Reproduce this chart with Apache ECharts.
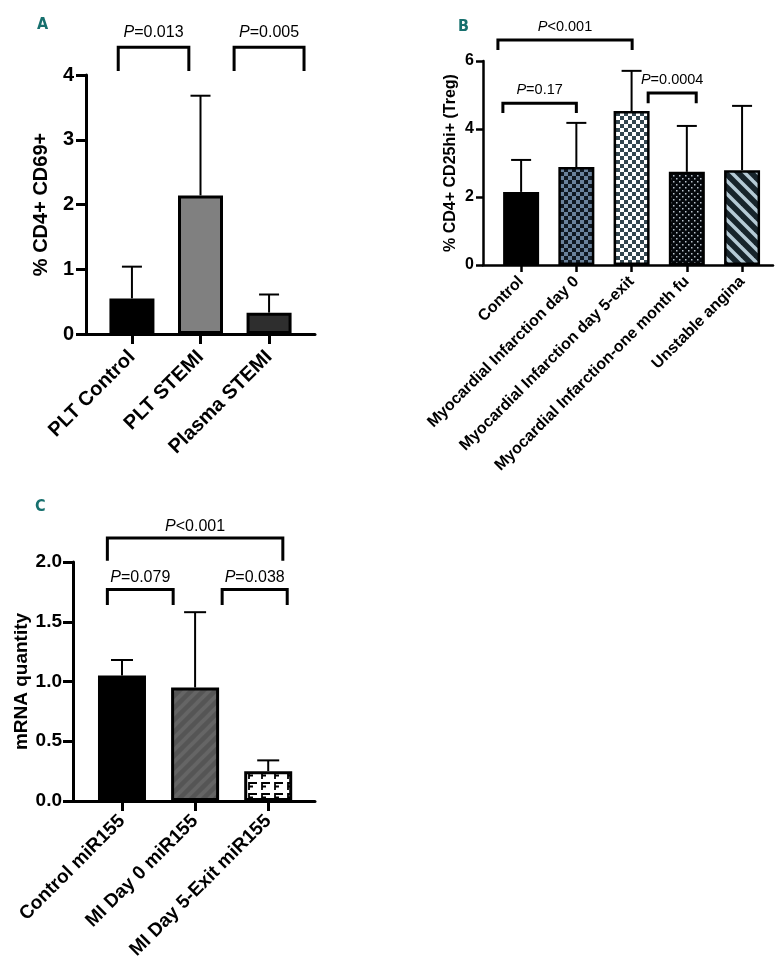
<!DOCTYPE html>
<html>
<head>
<meta charset="utf-8">
<script src="https://cdn.jsdelivr.net/npm/echarts@6.0.0/dist/echarts.min.js"></script>
<style>
html,body{margin:0;padding:0;background:#fff;}
#chart{width:783px;height:967px;}
</style>
</head>
<body>
<div id="chart"></div>
<script>
// ---------------- DATA ----------------
// Panel A
const catA = ['PLT Control', 'PLT STEMI', 'Plasma STEMI'];
const meanA = [0.55, 2.14, 0.33];
const sdA = [0.49, 1.54, 0.28];
const yTicksA = [0, 1, 2, 3, 4];
const bracketPosA = [[-0.2, 0.83, 4.43, 4.06], [1.49, 2.51, 4.43, 4.06]];
const bracketLabelA = ['P=0.013', 'P=0.005'];

// Panel B
const catB = ['Control', 'Myocardial Infarction day 0', 'Myocardial Infarction day 5-exit',
  'Myocardial Infarction-one month fu', 'Unstable angina'];
const meanB = [2.15, 2.88, 4.53, 2.74, 2.79];
const sdB = [0.94, 1.30, 1.18, 1.35, 1.89];
const yTicksB = [0, 2, 4, 6];
const bracketPosB = [[-0.42, 2.01, 6.62, 6.32], [-0.33, 1.0, 4.76, 4.47], [2.30, 3.17, 5.06, 4.76]];
const bracketLabelB = ['P<0.001', 'P=0.17', 'P=0.0004'];

// Panel C
const catC = ['Control miR155', 'MI Day 0 miR155', 'MI Day 5-Exit miR155'];
const meanC = [1.05, 0.95, 0.25];
const sdC = [0.13, 0.63, 0.09];
const yTicksC = [0, 0.5, 1.0, 1.5, 2.0];
const bracketPosC = [[-0.2, 2.2, 2.2, 2.01], [-0.2, 0.70, 1.77, 1.64], [1.37, 2.26, 1.77, 1.64]];
const bracketLabelC = ['P<0.001', 'P=0.079', 'P=0.038'];

// ---------------- STYLES ----------------
const FONT = '"Liberation Sans", Arial, sans-serif';

function makePattern(w, h, draw) {
  const c = document.createElement('canvas');
  c.width = w; c.height = h;
  const ctx = c.getContext('2d');
  draw(ctx, w, h);
  return { image: c, repeat: 'repeat' };
}
function checker(bg, fg, s) {
  return makePattern(2 * s, 2 * s, (ctx) => {
    ctx.fillStyle = bg; ctx.fillRect(0, 0, 2 * s, 2 * s);
    ctx.fillStyle = fg; ctx.fillRect(0, 0, s, s); ctx.fillRect(s, s, s, s);
  });
}
function stripes(bg, fg, size, lw, dir) {
  return makePattern(size, size, (ctx, w, h) => {
    ctx.fillStyle = bg; ctx.fillRect(0, 0, w, h);
    ctx.strokeStyle = fg; ctx.lineWidth = lw;
    for (let k = -1; k <= 1; k++) {
      ctx.beginPath();
      if (dir === 'back') { ctx.moveTo(k * w - 2, -2); ctx.lineTo(k * w + w + 2, h + 2); }
      else { ctx.moveTo(k * w - 2, h + 2); ctx.lineTo(k * w + w + 2, -2); }
      ctx.stroke();
    }
  });
}
const dotsPattern = makePattern(6, 6, (ctx) => {
  ctx.fillStyle = '#05080c'; ctx.fillRect(0, 0, 6, 6);
  ctx.fillStyle = '#b9c2cc';
  ctx.fillRect(1, 1, 1.5, 1.5); ctx.fillRect(4, 4, 1.5, 1.5);
});
const gammaPattern = makePattern(13, 11, (ctx) => {
  ctx.fillStyle = '#fff'; ctx.fillRect(0, 0, 13, 11);
  ctx.strokeStyle = '#000'; ctx.lineWidth = 1.8;
  ctx.beginPath();
  ctx.moveTo(2, 9); ctx.lineTo(2, 2); ctx.lineTo(10, 2);
  ctx.moveTo(2, 5.5); ctx.lineTo(6, 5.5);
  ctx.stroke();
});

const colorsA = ['#000000', '#808080', '#2e2e2e'];
const colorsB = ['#000000', checker('#0f1822', '#6a829c', 4), checker('#ffffff', '#33464f', 4),
  dotsPattern, stripes('#17242b', '#b5cad5', 13, 3.5, 'back')];
const colorsC = ['#000000', stripes('#555555', '#656565', 12, 4, 'fwd'), gammaPattern];

// ---------------- BUILDERS ----------------
function barSeries(gi, means, colors, bw, bwBorder) {
  return {
    type: 'bar', xAxisIndex: gi, yAxisIndex: gi, barWidth: bw, z: 2,
    data: means.map((m, i) => ({ value: [i, m], itemStyle: { color: colors[i] } })),
    itemStyle: { borderColor: '#000', borderWidth: bwBorder },
    silent: true, animation: false
  };
}
function errSeries(gi, means, sds, capW, lw) {
  return {
    type: 'custom', xAxisIndex: gi, yAxisIndex: gi, z: 3, silent: true, animation: false,
    data: means.map((m, i) => [i, m, sds[i]]),
    renderItem(params, api) {
      const x = api.value(0), m = api.value(1), sd = api.value(2);
      const p0 = api.coord([x, m]), p1 = api.coord([x, m + sd]);
      const st = { stroke: '#000', lineWidth: lw };
      return { type: 'group', children: [
        { type: 'line', shape: { x1: p0[0], y1: p0[1], x2: p1[0], y2: p1[1] }, style: st },
        { type: 'line', shape: { x1: p1[0] - capW / 2, y1: p1[1], x2: p1[0] + capW / 2, y2: p1[1] }, style: st }
      ] };
    }
  };
}
function bracketSeries(gi, pos, labels, fontSize, gap) {
  return {
    type: 'custom', xAxisIndex: gi, yAxisIndex: gi, z: 4, silent: true, animation: false,
    encode: { x: [0, 1], y: [2, 3] },
    data: pos,
    renderItem(params, api) {
      const a = api.coord([api.value(0), api.value(2)]);
      const b = api.coord([api.value(1), api.value(2)]);
      const aL = api.coord([api.value(0), api.value(3)]);
      const bL = api.coord([api.value(1), api.value(3)]);
      const lab = labels[params.dataIndex];
      return { type: 'group', children: [
        { type: 'polyline', shape: { points: [[aL[0], aL[1]], [a[0], a[1]], [b[0], b[1]], [bL[0], bL[1]]] },
          style: { stroke: '#000', lineWidth: 3, fill: null } },
        { type: 'text', style: {
            x: (a[0] + b[0]) / 2, y: a[1] - gap,
            text: '{i|' + lab.charAt(0) + '}' + lab.slice(1),
            align: 'center', verticalAlign: 'middle',
            fontSize: fontSize, fontFamily: FONT, fill: '#000',
            rich: { i: { fontStyle: 'italic', fontSize: fontSize, fontFamily: FONT, fill: '#000' } }
          } }
      ] };
    }
  };
}
function yAxisCfg(gi, min, max, interval, name, nameGap, fs, tickLen, margin, lw, fmt) {
  return {
    gridIndex: gi, type: 'value', min: min, max: max, interval: interval,
    axisLine: { show: true, onZero: false, lineStyle: { color: '#000', width: lw } },
    axisTick: { show: true, length: tickLen, lineStyle: { color: '#000', width: lw } },
    axisLabel: { color: '#000', fontSize: fs, fontWeight: 'bold', fontFamily: FONT, margin: margin, formatter: fmt },
    splitLine: { show: false },
    name: name, nameLocation: 'middle', nameGap: nameGap,
    nameTextStyle: { color: '#000', fontSize: fs, fontWeight: 'bold', fontFamily: FONT }
  };
}
function xAxisCfg(gi, min, max, cats, fs, tickLen, margin, lw) {
  const idx = cats.map((c, i) => i);
  return {
    gridIndex: gi, type: 'value', min: min, max: max,
    axisLine: { show: true, onZero: false, lineStyle: { color: '#000', width: lw } },
    axisTick: { show: true, length: tickLen, customValues: idx, lineStyle: { color: '#000', width: lw } },
    axisLabel: { customValues: idx, rotate: 45, color: '#000', fontSize: fs, fontWeight: 'bold', fontFamily: FONT,
      margin: margin, formatter: (v) => cats[Math.round(v)], hideOverlap: false },
    splitLine: { show: false }
  };
}

// ---------------- CHART ----------------
const chart = echarts.init(document.getElementById('chart'), null, { renderer: 'canvas', width: 783, height: 967 });
chart.setOption({
  backgroundColor: '#fff',
  animation: false,
  grid: [
    { left: 86, top: 75, width: 229, height: 259, containLabel: false },
    { left: 483, top: 61, width: 290, height: 204, containLabel: false },
    { left: 73, top: 562, width: 242, height: 239, containLabel: false }
  ],
  xAxis: [
    xAxisCfg(0, -0.67, 2.67, catA, 20, 10, 20, 3),
    xAxisCfg(1, -0.69, 4.56, catB, 16, 7, 14, 2.5),
    xAxisCfg(2, -0.67, 2.64, catC, 19, 10, 17, 3)
  ],
  yAxis: [
    yAxisCfg(0, yTicksA[0], yTicksA[yTicksA.length - 1], yTicksA[1] - yTicksA[0], '% CD4+ CD69+', 35, 20, 10, 12, 3),
    yAxisCfg(1, yTicksB[0], yTicksB[yTicksB.length - 1], yTicksB[1] - yTicksB[0], '% CD4+ CD25hi+ (Treg)', 24, 16, 7, 9, 2.5),
    yAxisCfg(2, yTicksC[0], yTicksC[yTicksC.length - 1], yTicksC[1] - yTicksC[0], 'mRNA quantity', 42, 19, 10, 11, 3,
      (v) => v.toFixed(1))
  ],
  graphic: [
    { type: 'text', left: 37, top: 17, style: { text: 'A', fill: '#17706e', font: 'bold 16px "DejaVu Sans Condensed", "DejaVu Sans", sans-serif' } },
    { type: 'text', left: 458, top: 19, style: { text: 'B', fill: '#17706e', font: 'bold 16px "DejaVu Sans Condensed", "DejaVu Sans", sans-serif' } },
    { type: 'text', left: 35, top: 499, style: { text: 'C', fill: '#17706e', font: 'bold 16px "DejaVu Sans Condensed", "DejaVu Sans", sans-serif' } }
  ],
  series: [
    barSeries(0, meanA, colorsA, 45, 3),
    errSeries(0, meanA, sdA, 20, 2),
    bracketSeries(0, bracketPosA, bracketLabelA, 16, 15),
    barSeries(1, meanB, colorsB, 36, 2.5),
    errSeries(1, meanB, sdB, 20, 2),
    bracketSeries(1, bracketPosB, bracketLabelB, 14.5, 13),
    barSeries(2, meanC, colorsC, 48, 3),
    errSeries(2, meanC, sdC, 22, 2),
    bracketSeries(2, bracketPosC, bracketLabelC, 16, 12)
  ]
});
</script>
</body>
</html>
